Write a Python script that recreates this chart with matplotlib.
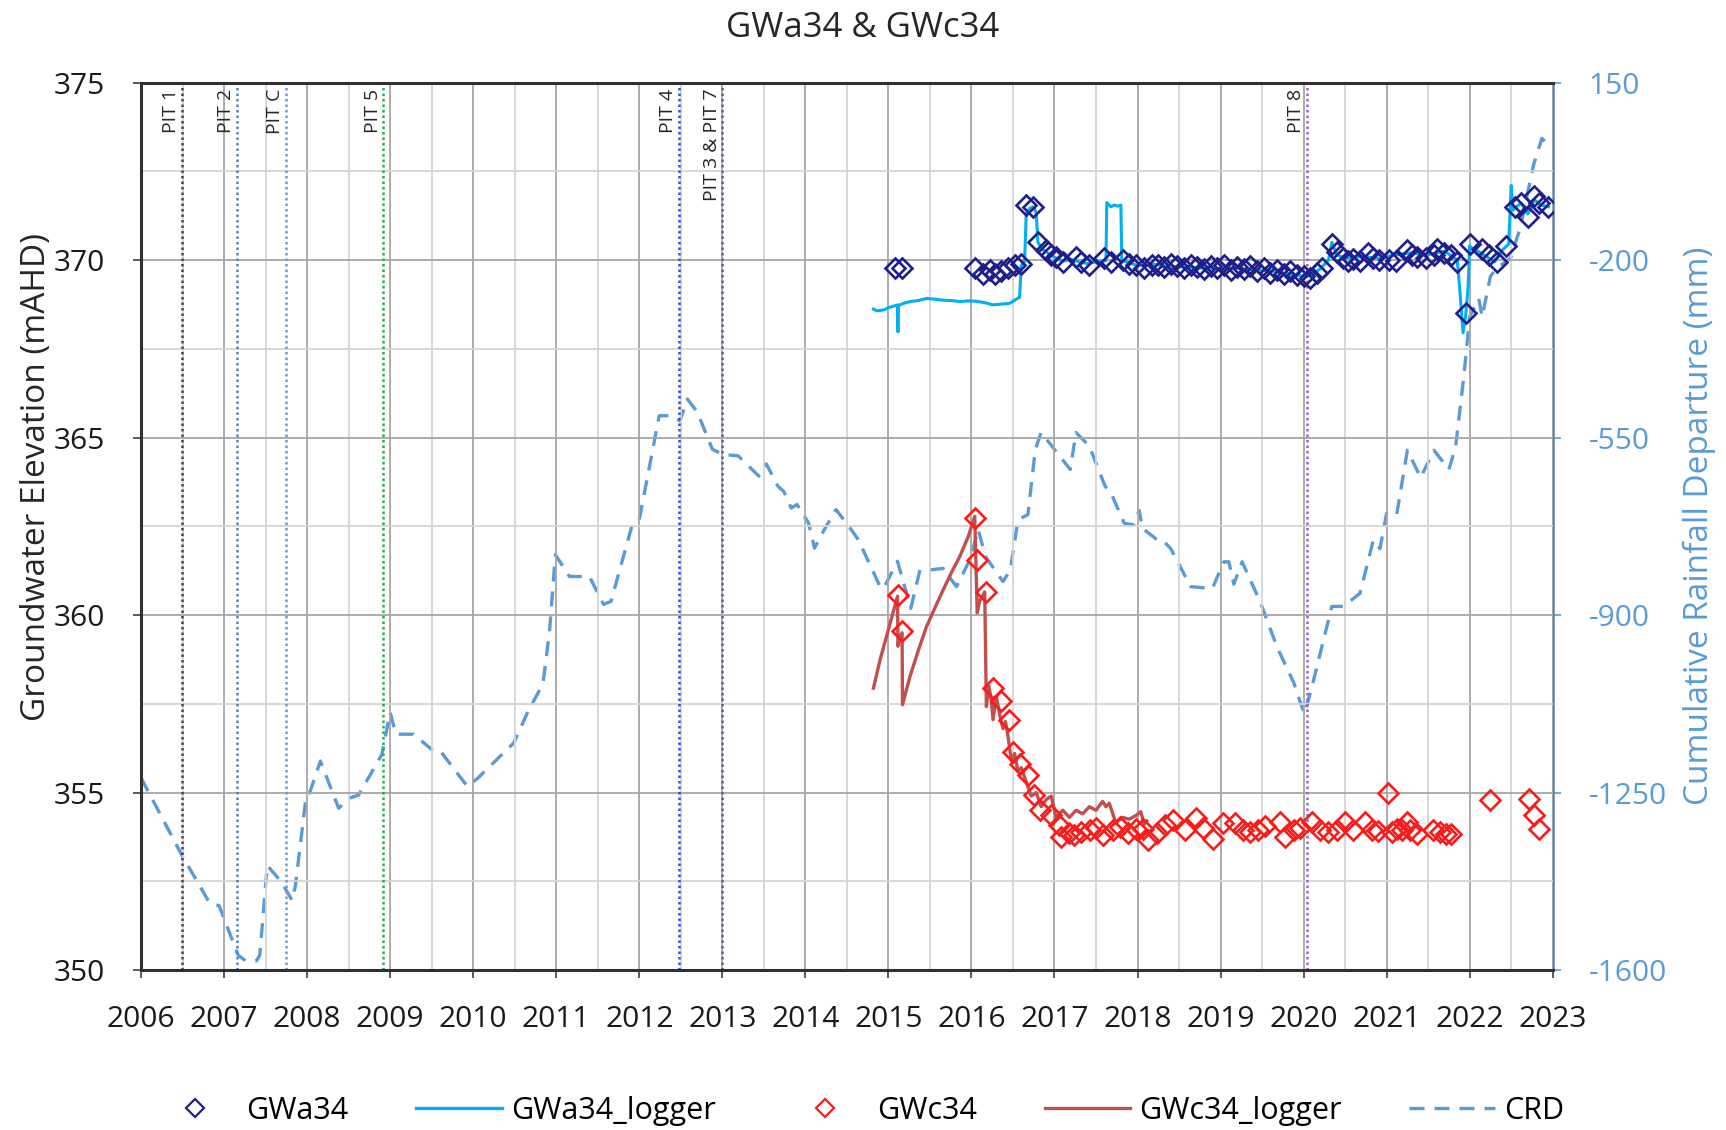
import matplotlib
matplotlib.use("Agg")
import matplotlib.pyplot as plt
from matplotlib.ticker import MultipleLocator, FixedLocator
from matplotlib.lines import Line2D

plt.rcParams['font.family'] = ['Open Sans', 'DejaVu Sans']
plt.rcParams['axes.unicode_minus'] = False

# ---------------- data ----------------
# Cumulative rainfall departure (mm), right axis
crd_t = [2006.0, 2006.48, 2006.83, 2006.94, 2007.17, 2007.26, 2007.39, 2007.43, 2007.52, 2007.69,
         2007.82, 2007.86, 2007.99, 2008.03, 2008.16, 2008.38, 2008.51, 2008.62, 2008.90, 2009.0,
         2009.07, 2009.28, 2009.50, 2009.59, 2009.93, 2010.06, 2010.49, 2010.66, 2010.84, 2010.92,
         2010.99, 2011.16, 2011.40, 2011.57, 2011.66, 2011.91, 2012.0, 2012.24, 2012.40, 2012.49,
         2012.58, 2012.70, 2012.88, 2013.0, 2013.19, 2013.44, 2013.53, 2013.67, 2013.74, 2013.83,
         2013.90, 2014.04, 2014.11, 2014.23, 2014.37, 2014.55, 2014.64, 2014.90, 2014.94, 2015.11,
         2015.27, 2015.38, 2015.50, 2015.66, 2015.82, 2015.99, 2016.08, 2016.17, 2016.38, 2016.47,
         2016.56, 2016.68, 2016.77, 2016.84, 2017.19, 2017.26, 2017.42, 2017.61, 2017.68, 2017.84,
         2017.95, 2018.02, 2018.06, 2018.24, 2018.30, 2018.40, 2018.64, 2018.90, 2019.04, 2019.10,
         2019.16, 2019.26, 2019.48, 2019.68, 2019.88, 2020.01, 2020.10, 2020.34, 2020.48, 2020.68,
         2020.84, 2020.92, 2021.0, 2021.12, 2021.25, 2021.41, 2021.57, 2021.75, 2021.83, 2021.93,
         2022.0, 2022.11, 2022.15, 2022.25, 2022.33, 2022.49, 2022.61, 2022.77, 2022.87, 2022.97]
crd_mm = [-1221, -1370, -1469, -1473, -1571, -1582, -1582, -1571, -1394, -1426,
          -1463, -1433, -1255, -1251, -1188, -1281, -1261, -1255, -1175, -1092,
          -1135, -1135, -1165, -1165, -1238, -1221, -1152, -1090, -1036, -931,
          -781, -824, -824, -879, -873, -725, -712, -507, -507, -517,
          -474, -500, -573, -583, -586, -626, -602, -646, -656, -689,
          -682, -719, -768, -731, -692, -731, -752, -844, -848, -794,
          -887, -811, -811, -808, -844, -788, -731, -785, -834, -811,
          -712, -702, -573, -540, -613, -540, -567, -646, -659, -719,
          -722, -694, -729, -752, -752, -769, -844, -848, -795, -795,
          -839, -795, -875, -963, -1033, -1095, -1042, -883, -883, -857,
          -752, -769, -699, -703, -575, -629, -575, -613, -569, -429,
          -312, -276, -312, -232, -215, -197, -136, -12, 40, 23]

# GWa34 manual readings (mAHD)
ga_t = [2015.08, 2015.16, 2016.04, 2016.14, 2016.22, 2016.28, 2016.36, 2016.44, 2016.52, 2016.60,
        2016.66, 2016.74, 2016.80, 2016.90, 2016.96, 2017.02, 2017.10, 2017.26, 2017.32, 2017.42,
        2017.60, 2017.68, 2017.82, 2017.90, 2017.98, 2018.08, 2018.18, 2018.25, 2018.32, 2018.40,
        2018.48, 2018.56, 2018.64, 2018.72, 2018.80, 2018.88, 2018.96, 2019.04, 2019.12, 2019.20,
        2019.28, 2019.36, 2019.44, 2019.52, 2019.60, 2019.68, 2019.76, 2019.84, 2019.92, 2020.00,
        2020.08, 2020.16, 2020.22, 2020.34, 2020.40, 2020.48, 2020.54, 2020.60, 2020.68, 2020.77,
        2020.83, 2020.91, 2021.03, 2021.11, 2021.25, 2021.31, 2021.37, 2021.47, 2021.57, 2021.61,
        2021.69, 2021.77, 2021.85, 2021.95, 2022.01, 2022.15, 2022.23, 2022.33, 2022.44, 2022.54,
        2022.62, 2022.70, 2022.78, 2022.84, 2022.94]
ga_v = [369.77, 369.77, 369.79, 369.62, 369.72, 369.62, 369.70, 369.77, 369.86, 369.90,
        371.55, 371.50, 370.52, 370.28, 370.15, 370.09, 369.95, 370.09, 369.95, 369.86,
        370.05, 369.95, 370.00, 369.90, 369.85, 369.77, 369.86, 369.85, 369.80, 369.88,
        369.82, 369.78, 369.85, 369.80, 369.75, 369.82, 369.78, 369.85, 369.72, 369.80,
        369.75, 369.82, 369.70, 369.78, 369.65, 369.72, 369.62, 369.68, 369.58, 369.55,
        369.50, 369.65, 369.77, 370.45, 370.23, 370.05, 369.98, 370.02, 369.98, 370.19,
        370.05, 370.00, 370.00, 369.97, 370.28, 370.13, 370.10, 370.05, 370.15, 370.30,
        370.20, 370.15, 369.95, 368.50, 370.45, 370.30, 370.15, 369.95, 370.40, 371.50,
        371.60, 371.22, 371.80, 371.62, 371.50]

# GWa34 logger (mAHD)
la_t = [2014.82, 2014.86, 2014.90, 2014.95, 2015.00, 2015.06, 2015.11, 2015.115, 2015.12, 2015.18,
        2015.26, 2015.36, 2015.46, 2015.56, 2015.66, 2015.76, 2015.86, 2015.96, 2016.06, 2016.16,
        2016.26, 2016.36, 2016.46, 2016.54, 2016.58, 2016.60, 2016.64, 2016.66, 2016.70, 2016.74,
        2016.78, 2016.80, 2016.86, 2016.92, 2017.0, 2017.1, 2017.2, 2017.3, 2017.4, 2017.5,
        2017.62, 2017.63, 2017.68, 2017.72, 2017.76, 2017.80, 2017.81, 2017.9, 2018.0, 2018.2,
        2018.4, 2018.6, 2018.8, 2019.0, 2019.2, 2019.4, 2019.6, 2019.8, 2020.0, 2020.1,
        2020.2, 2020.3, 2020.34, 2020.4, 2020.5, 2020.7, 2020.9, 2021.1, 2021.3, 2021.5,
        2021.7, 2021.85, 2021.88, 2021.92, 2021.95, 2021.98, 2022.0, 2022.02, 2022.1, 2022.2,
        2022.3, 2022.4, 2022.47, 2022.5, 2022.52, 2022.56, 2022.62, 2022.7, 2022.78, 2022.86,
        2022.95]
la_v = [368.62, 368.57, 368.58, 368.60, 368.66, 368.70, 368.74, 367.98, 368.72, 368.78,
        368.83, 368.86, 368.92, 368.90, 368.87, 368.86, 368.83, 368.85, 368.84, 368.80,
        368.74, 368.76, 368.78, 368.90, 368.95, 369.85, 369.95, 371.30, 371.45, 371.50,
        371.35, 370.50, 370.30, 370.20, 370.08, 369.97, 370.02, 369.95, 369.90, 369.95,
        369.98, 371.62, 371.50, 371.55, 371.52, 371.55, 370.00, 369.92, 369.85, 369.88,
        369.82, 369.80, 369.78, 369.75, 369.77, 369.72, 369.70, 369.62, 369.55, 369.60,
        369.75, 370.00, 370.50, 370.15, 370.05, 370.10, 370.05, 370.15, 370.20, 370.15,
        370.25, 370.00, 369.20, 367.95, 368.40, 369.20, 370.40, 370.35, 370.25, 370.10,
        369.95, 370.30, 370.45, 372.10, 371.40, 371.50, 371.60, 371.30, 371.70, 371.55,
        371.50]

# GWc34 manual readings (mAHD)
gc_t = [2015.11, 2015.17, 2016.04, 2016.07, 2016.17, 2016.26, 2016.36, 2016.45, 2016.50, 2016.59,
        2016.68, 2016.75, 2016.82, 2016.96, 2017.05, 2017.08, 2017.17, 2017.24, 2017.32, 2017.43,
        2017.50, 2017.59, 2017.70, 2017.79, 2017.88, 2017.98, 2018.07, 2018.13, 2018.23, 2018.33,
        2018.43, 2018.57, 2018.71, 2018.79, 2018.91, 2019.03, 2019.17, 2019.27, 2019.35, 2019.45,
        2019.53, 2019.71, 2019.78, 2019.88, 2019.96, 2020.10, 2020.20, 2020.30, 2020.40, 2020.50,
        2020.60, 2020.74, 2020.82, 2020.90, 2021.02, 2021.06, 2021.12, 2021.18, 2021.24, 2021.28,
        2021.36, 2021.56, 2021.64, 2021.72, 2021.78, 2022.24, 2022.71, 2022.77, 2022.83]
gc_v = [360.57, 359.56, 362.73, 361.56, 360.64, 357.94, 357.57, 357.05, 356.13, 355.81,
        355.50, 354.93, 354.51, 354.37, 354.09, 353.76, 353.85, 353.81, 353.90, 353.94,
        354.00, 353.80, 353.95, 354.03, 353.85, 353.98, 353.98, 353.66, 353.85, 354.08,
        354.22, 353.94, 354.27, 354.00, 353.70, 354.13, 354.13, 353.95, 353.90, 353.94,
        354.05, 354.17, 353.75, 353.95, 354.00, 354.17, 353.95, 353.89, 353.95, 354.17,
        353.95, 354.17, 353.95, 353.92, 355.00, 353.90, 353.98, 353.95, 354.17, 353.95,
        353.84, 353.94, 353.90, 353.84, 353.84, 354.80, 354.83, 354.36, 353.98]

# GWc34 logger (mAHD)
lc_t = [2014.82, 2014.90, 2015.00, 2015.11, 2015.115, 2015.14, 2015.165, 2015.17, 2015.26, 2015.36,
        2015.46, 2015.56, 2015.66, 2015.76, 2015.86, 2015.96, 2016.04, 2016.05, 2016.07, 2016.10,
        2016.16, 2016.18, 2016.21, 2016.24, 2016.26, 2016.30, 2016.34, 2016.38, 2016.41, 2016.44,
        2016.48, 2016.52, 2016.56, 2016.60, 2016.66, 2016.72, 2016.78, 2016.84, 2016.90, 2016.96,
        2017.02, 2017.06, 2017.10, 2017.18, 2017.26, 2017.34, 2017.42, 2017.50, 2017.58, 2017.62,
        2017.66, 2017.74, 2017.82, 2017.90, 2017.98, 2018.04, 2018.08, 2018.11]
lc_v = [357.94, 358.74, 359.59, 360.53, 359.12, 359.40, 359.50, 357.47, 358.27, 359.00,
        359.68, 360.20, 360.71, 361.20, 361.65, 362.20, 362.78, 361.80, 360.06, 360.40,
        360.65, 357.42, 358.00, 357.60, 357.05, 357.70, 357.20, 356.80, 357.00, 356.60,
        355.90, 356.10, 355.60, 355.70, 355.30, 354.90, 355.00, 354.60, 354.80, 354.90,
        354.30, 354.40, 354.50, 354.30, 354.50, 354.40, 354.60, 354.50, 354.75, 354.60,
        354.70, 354.14, 354.30, 354.25, 354.35, 354.46, 354.10, 354.20]

# PIT event markers
pit_labels = ["PIT 1", "PIT 2", "PIT C", "PIT 5", "PIT 4", "PIT 3 & PIT 7", "PIT 8"]
pit_t = [2006.49, 2007.15, 2007.74, 2008.92, 2012.48, 2013.0, 2020.04]
pit_colors = ["#4b3f63", "#5b80c0", "#6f9ad4", "#22b04b", "#2f4fd8", "#6e5a90", "#9b5fd0"]

year_ticks = list(range(2006, 2024))
left_ticks = [350, 355, 360, 365, 370, 375]
right_ticks = [-1600, -1250, -900, -550, -200, 150]

# ---------------- figure ----------------
fig = plt.figure(figsize=(17.26, 11.30), dpi=100)
ax = fig.add_axes([0.0817, 0.1416, 0.8179, 0.7853])
ax2 = ax.twinx()

ax.set_xlim(2006, 2023)
ax.set_ylim(350, 375)
ax2.set_ylim(-1600, 150)

ax.xaxis.set_major_locator(FixedLocator(year_ticks))
ax.xaxis.set_minor_locator(MultipleLocator(0.5))
ax.yaxis.set_major_locator(FixedLocator(left_ticks))
ax.yaxis.set_minor_locator(MultipleLocator(2.5))
ax2.yaxis.set_major_locator(FixedLocator(right_ticks))

ax.grid(which='major', axis='both', color='#a6a6a6', lw=1.3, zorder=0)
ax.grid(which='minor', axis='both', color='#d4d4d4', lw=1.3, zorder=0)
ax.set_axisbelow(True)

ax.set_xticklabels([str(y) for y in year_ticks])
ax.tick_params(axis='x', which='major', labelsize=21.5, length=6, width=1.2, pad=19, color='#404040',
               labelcolor='#1a1a1a')
ax.tick_params(axis='x', which='minor', length=0)
ax.tick_params(axis='y', which='major', labelsize=21.5, length=6, width=1.2, pad=20, color='#404040',
               labelcolor='#1a1a1a')
ax.tick_params(axis='y', which='minor', length=0)
ax2.tick_params(axis='y', labelsize=21.5, length=6, width=1.2, pad=20, colors='#5b9bd5')

for s in ['left', 'bottom', 'top']:
    ax.spines[s].set_color('#303030')
    ax.spines[s].set_linewidth(2.2)
ax.spines['right'].set_visible(False)
for s in ['left', 'bottom', 'top']:
    ax2.spines[s].set_visible(False)
ax2.spines['right'].set_color('#4f7fc0')
ax2.spines['right'].set_linewidth(1.8)

ax.set_ylabel("Groundwater Elevation (mAHD)", fontsize=24, color='#262626')
ax.yaxis.set_label_coords(-0.062, 0.556)
ax2.set_ylabel("Cumulative Rainfall Departure (mm)", fontsize=24, color='#5b9bd5', labelpad=11)
fig.text(0.5, 0.975, "GWa34 & GWc34", ha='center', va='center', fontsize=25, color='#262626')

# PIT lines and labels
for lab, t, c in zip(pit_labels, pit_t, pit_colors):
    ax.axvline(t, color=c, lw=1.8, linestyle=(0, (1, 1.2)), zorder=2)
    ax.text(t - 0.02, 0.993, lab, rotation=90, ha='right', va='top', fontsize=14,
            color='#262626', transform=ax.get_xaxis_transform(), zorder=3)

# data
ax2.plot(crd_t, crd_mm, color='#5b9bd5', lw=2.4, linestyle=(0, (4.5, 3)), zorder=2)
ax.plot(la_t, la_v, color='#00b0f0', lw=2.2, zorder=3)
ax.plot(lc_t, lc_v, color='#c0504d', lw=2.4, zorder=3)
ax.plot(ga_t, ga_v, linestyle='none', marker='D', ms=10, mfc='none', mec='#1f1f8c', mew=1.9, zorder=4)
ax.plot(gc_t, gc_v, linestyle='none', marker='D', ms=10, mfc='none', mec='#ff1a1a', mew=1.9, zorder=4)

ax.set_zorder(ax2.get_zorder() + 1)
ax.patch.set_visible(False)
ax2.patch.set_visible(True)
ax2.patch.set_facecolor('white')

handles = [
    Line2D([], [], linestyle='none', marker='D', ms=9, mfc='none', mec='#1f1f8c', mew=1.6),
    Line2D([], [], color='#00b0f0', lw=2.4),
    Line2D([], [], linestyle='none', marker='D', ms=9, mfc='none', mec='#ff1a1a', mew=1.6),
    Line2D([], [], color='#c0504d', lw=2.4),
    Line2D([], [], color='#5b9bd5', lw=2.4, linestyle=(0, (4.5, 3))),
]
labels = ["GWa34", "GWa34_logger", "GWc34", "GWc34_logger", "CRD"]
fig.legend(handles, labels, loc='center', bbox_to_anchor=(0.497, 0.017), ncol=5, frameon=False,
           fontsize=22, handlelength=2.8, columnspacing=2.2, handletextpad=0.3)

fig.savefig("out.png", dpi=100)
